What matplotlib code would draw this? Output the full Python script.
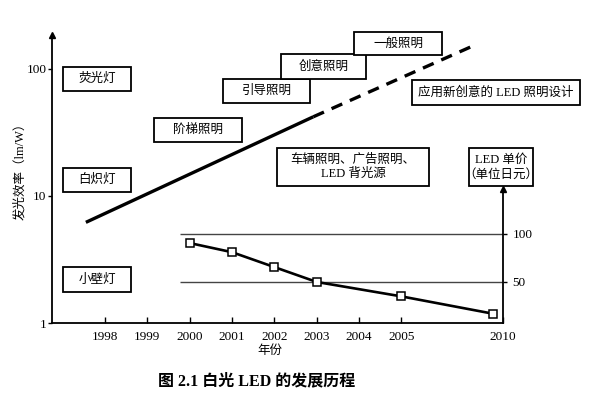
import numpy as np
import matplotlib
matplotlib.use('Agg')
import matplotlib.pyplot as plt
from matplotlib.patches import Rectangle

plt.rcParams['font.family'] = ['Liberation Serif', 'Noto Sans CJK SC']

# year axis: 1998-2005 evenly spaced, 2005-2010 compressed
tick_years = [1998, 1999, 2000, 2001, 2002, 2003, 2004, 2005, 2010]

# luminous efficacy trend (lm/W), log scale
eff_solid_years = [1997.55, 2002.92]
eff_solid_vals = [6.2, 42]
eff_dash_years = [2002.92, 2008.65]
eff_dash_vals = [42, 155]

# LED unit price (yen)
price_years = [2000, 2001, 2002, 2003, 2005, 2009.5]
price_vals = [90.5, 81, 65.5, 50, 35, 17]
price_ref_lines = [50, 100]

year_knots = [1990, 2005, 2015]
slot_knots = [-8, 7, 11.8]


def fwd(y):
    return np.interp(y, year_knots, slot_knots)


def inv(s):
    return np.interp(s, slot_knots, year_knots)


W, H = 600, 395
fig = plt.figure(figsize=(6, 3.95), dpi=100)
ax = fig.add_axes([52 / W, 1 - 323 / H, (503 - 52) / W, (323 - 35) / H])
ax.set_xscale('function', functions=(fwd, inv))
ax.set_yscale('log')
ax.set_xlim(1996.75, 2010)
ax.set_ylim(1, 185)

ax.plot(eff_solid_years, eff_solid_vals, color='k', lw=2.4, solid_capstyle='butt')
ax.plot(eff_dash_years, eff_dash_vals, color='k', lw=2.4, dashes=(3.5, 2.5))

ax.set_xticks(tick_years)
ax.set_xticklabels([str(y) for y in tick_years])
ax.set_yticks([1, 10, 100])
ax.set_yticklabels(['1', '10', '100'])
ax.yaxis.set_minor_locator(matplotlib.ticker.NullLocator())
ax.xaxis.set_minor_locator(matplotlib.ticker.NullLocator())
ax.tick_params(axis='x', direction='in', length=4, width=1, labelsize=9.5, pad=6)
ax.tick_params(axis='y', direction='out', length=3, width=1, labelsize=9.5, pad=1)
for s in ['top', 'right']:
    ax.spines[s].set_visible(False)
for s in ['left', 'bottom']:
    ax.spines[s].set_linewidth(1.3)
ax.plot([0], [1], marker='^', color='k', ms=5, transform=ax.transAxes, clip_on=False)

# price axis on the right
ax2 = ax.twinx()
ax2.set_ylim(7.3, 307)
ax2.hlines(price_ref_lines, 1999.77, 2010, color='#444444', lw=1)
ax2.plot(price_years, price_vals, color='k', lw=1.9, marker='s', ms=6,
         mfc='white', mec='k', mew=1.1)
ax2.set_yticks(price_ref_lines)
ax2.set_yticklabels(['50', '100'])
ax2.tick_params(axis='y', direction='out', length=3, width=1, labelsize=9.5, pad=4)
for s in ['top', 'left', 'bottom']:
    ax2.spines[s].set_visible(False)
ax2.spines['right'].set_bounds(7.3, 147)
ax2.spines['right'].set_linewidth(1.3)
ax2.plot([2010], [147], marker='^', color='k', ms=5, clip_on=False)


def box(x0, y0, x1, y1, text, size=9):
    fig.patches.append(Rectangle((x0 / W, 1 - y1 / H), (x1 - x0) / W, (y1 - y0) / H,
                                 transform=fig.transFigure, fill=True, fc='white',
                                 ec='k', lw=1.3, zorder=3))
    fig.text((x0 + x1) / 2 / W, 1 - (y0 + y1) / 2 / H, text, ha='center', va='center',
             fontsize=size, fontweight='medium', zorder=4, linespacing=1.3)


box(63, 67, 131, 91, '荧光灯')
box(63, 168, 131, 192, '白炽灯')
box(63, 267, 131, 292, '小壁灯')
box(154, 118, 242, 142, '阶梯照明')
box(223, 79, 310, 103, '引导照明')
box(281, 54, 366, 79, '创意照明')
box(354, 32, 442, 55, '一般照明')
box(412, 80, 580, 105, '应用新创意的 LED 照明设计')
box(277, 148, 429, 186, '车辆照明、广告照明、\nLED 背光源')
box(469, 148, 533, 186, 'LED 单价\n（单位日元）')

fig.text(20 / W, 1 - 168 / H, '发光效率（lm/W）', rotation=90, ha='center', va='center',
         fontsize=9, fontweight='medium')
fig.text(270 / W, 1 - 351 / H, '年份', ha='center', va='center', fontsize=9,
         fontweight='medium')
fig.text(257 / W, 1 - 381 / H, '图 2.1 白光 LED 的发展历程', ha='center', va='center',
         fontsize=11.5, fontweight='bold')

fig.savefig('out.png', dpi=100)
